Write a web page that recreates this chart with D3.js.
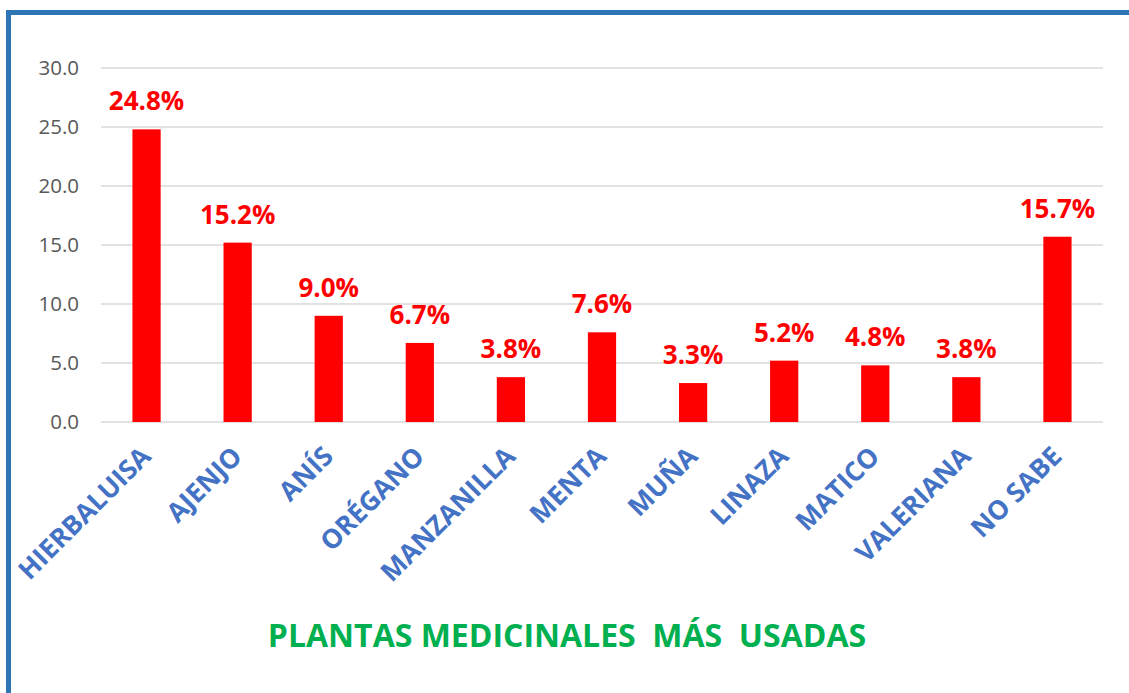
<!DOCTYPE html>
<html>
<head>
<meta charset="utf-8">
<script src="https://cdn.jsdelivr.net/npm/d3@7"></script>
<style>
  body { margin: 0; background: #fff; }
  svg { display: block; }
</style>
</head>
<body>
<svg width="1129" height="693"></svg>
<script>
const categories = ["HIERBALUISA", "AJENJO", "ANÍS", "ORÉGANO", "MANZANILLA", "MENTA",
                    "MUÑA", "LINAZA", "MATICO", "VALERIANA", "NO SABE"];
const values = [24.8, 15.2, 9.0, 6.7, 3.8, 7.6, 3.3, 5.2, 4.8, 3.8, 15.7];
const yTicks = [0, 5, 10, 15, 20, 25, 30];
const title = "PLANTAS MEDICINALES\u00a0\u00a0MÁS\u00a0\u00a0USADAS";

const svg = d3.select("svg"),
    width = +svg.attr("width"),
    height = +svg.attr("height");

const font = "'Open Sans', 'Noto Sans', sans-serif";

// frame (runs off the right and bottom edge like the source)
svg.append("rect")
  .attr("x", 8.5).attr("y", 12.5)
  .attr("width", width + 20).attr("height", height + 20)
  .attr("fill", "none")
  .attr("stroke", "#2e75b6")
  .attr("stroke-width", 5);

const plotLeft = 101, plotRight = 1103, plotTop = 68, plotBottom = 422;

const x = d3.scaleBand()
  .domain(categories)
  .range([plotLeft, plotRight])
  .paddingInner(0.69)
  .paddingOuter(0.345);

const y = d3.scaleLinear()
  .domain([0, 30])
  .range([plotBottom, plotTop]);

// gridlines
svg.append("g")
  .selectAll("line")
  .data(yTicks)
  .enter().append("line")
  .attr("x1", plotLeft).attr("x2", plotRight)
  .attr("y1", d => y(d)).attr("y2", d => y(d))
  .attr("stroke", "#d9d9d9")
  .attr("stroke-width", 1.5);

// y axis labels
const yAxis = svg.append("g")
  .attr("transform", `translate(${plotLeft - 22},0)`)
  .call(d3.axisLeft(y).tickValues(yTicks).tickFormat(d3.format(".1f")).tickSize(0));
yAxis.select(".domain").remove();
yAxis.selectAll("text")
  .attr("x", 0)
  .attr("fill", "#595959")
  .style("font-family", font)
  .style("font-size", "20.5px");

// bars
svg.append("g")
  .selectAll("rect")
  .data(values)
  .enter().append("rect")
  .attr("x", (d, i) => x(categories[i]))
  .attr("width", x.bandwidth())
  .attr("y", d => y(d))
  .attr("height", d => y(0) - y(d))
  .attr("fill", "#ff0000");

// value labels
svg.append("g")
  .selectAll("text")
  .data(values)
  .enter().append("text")
  .attr("x", (d, i) => x(categories[i]) + x.bandwidth() / 2)
  .attr("y", d => y(d) - 19)
  .attr("text-anchor", "middle")
  .attr("fill", "#ff0000")
  .style("font-family", font)
  .style("font-weight", "bold")
  .style("font-size", "26px")
  .text(d => d.toFixed(1) + "%");

// category labels, rotated
svg.append("g")
  .selectAll("text")
  .data(categories)
  .enter().append("text")
  .attr("transform", d => `translate(${x(d) + x.bandwidth() / 2 + 6},${plotBottom + 36}) rotate(-45)`)
  .attr("text-anchor", "end")
  .attr("fill", "#4472c4")
  .style("font-family", font)
  .style("font-weight", "bold")
  .style("font-size", "26.5px")
  .text(d => d);

// title
svg.append("text")
  .attr("x", 567)
  .attr("y", 647)
  .attr("text-anchor", "middle")
  .attr("fill", "#00b050")
  .style("font-family", font)
  .style("font-weight", "bold")
  .style("font-size", "32px")
  .text(title);
</script>
</body>
</html>
